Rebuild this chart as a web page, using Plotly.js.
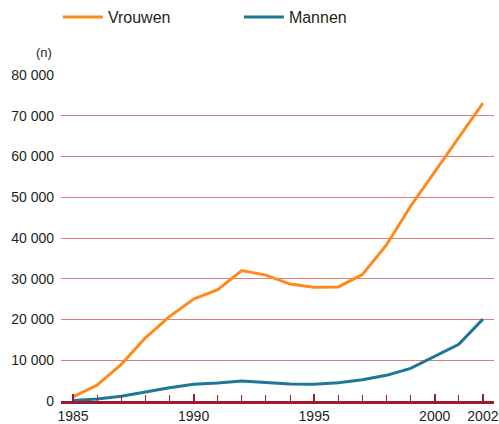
<!DOCTYPE html>
<html>
<head>
<meta charset="utf-8">
<script src="https://cdn.plot.ly/plotly-3.0.1.min.js"></script>
<style>html,body{margin:0;padding:0;background:#fff;}#chart{width:499px;height:424px;}</style>
</head>
<body>
<div id="chart"></div>
<script>
const years = [1985,1986,1987,1988,1989,1990,1991,1992,1993,1994,1995,1996,1997,1998,1999,2000,2001,2002];
const vrouwen = [1000,3900,9000,15500,20700,25000,27300,32000,30900,28700,27900,28000,31000,38300,47800,56200,64600,73100];
const mannen = [100,500,1150,2200,3250,4100,4400,4900,4600,4200,4100,4500,5200,6300,8000,10900,13900,20100];
const xTickVals = [1985,1990,1995,2000,2002];
const xTickText = ['1985','1990','1995','2000','2002'];
const yTickVals = [0,10000,20000,30000,40000,50000,60000,70000,80000];
const yTickText = ['0','10 000','20 000','30 000','40 000','50 000','60 000','70 000','80 000'];

const font = 'Liberation Sans, Arial, Helvetica, sans-serif';
const traces = [
  {x: years, y: vrouwen, name: 'Vrouwen', type: 'scatter', mode: 'lines',
   line: {color: '#ff8a1c', width: 3}},
  {x: years, y: mannen, name: 'Mannen', type: 'scatter', mode: 'lines',
   line: {color: '#1c7896', width: 3}}
];
const layout = {
  width: 499, height: 424,
  margin: {l: 61, r: 5, t: 75, b: 23, autoexpand: false},
  paper_bgcolor: '#fff', plot_bgcolor: '#fff',
  font: {family: font, size: 14, color: '#231f20'},
  showlegend: true,
  legend: {orientation: 'h', xref: 'container', x: 0.116, xanchor: 'left', yref: 'container', y: 1.0, yanchor: 'top',
           font: {size: 16, color: '#231f20'}, entrywidth: 126, itemwidth: 40,
           bgcolor: 'rgba(0,0,0,0)'},
  xaxis: {range: [1984.5, 2002.46], tickvals: xTickVals, ticktext: xTickText,
          showgrid: false, zeroline: false, showline: true, linecolor: '#9b1b33', linewidth: 3,
          ticks: 'inside', ticklen: 7, tickwidth: 2, tickcolor: '#9b1b33',
          minor: {dtick: 1, tick0: 1985, ticks: 'inside', ticklen: 6, tickwidth: 1, tickcolor: '#9b1b33', showgrid: false},
          tickfont: {size: 14}, fixedrange: true},
  yaxis: {range: [0, 80000], tickvals: yTickVals, ticktext: yTickText,
          showgrid: true, gridcolor: '#e47e7e', gridwidth: 1, zeroline: false, showline: false,
          ticks: '', ticklabelstandoff: 6, tickfont: {size: 14}, fixedrange: true},
  annotations: [{xref: 'paper', yref: 'paper', x: -0.016, y: 1.07, xanchor: 'right', yanchor: 'middle',
                 text: '(n)', showarrow: false, font: {size: 13, color: '#231f20'}}]
};
Plotly.newPlot('chart', traces, layout, {displayModeBar: false, staticPlot: true});
</script>
</body>
</html>
